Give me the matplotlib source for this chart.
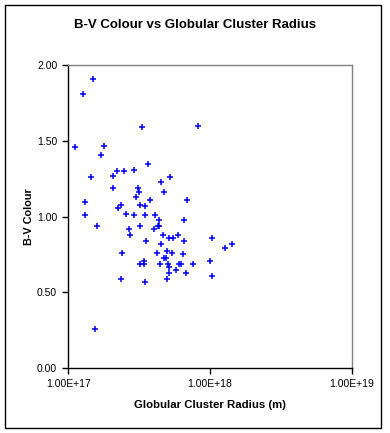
import matplotlib
matplotlib.use("Agg")
import matplotlib.pyplot as plt
from matplotlib.patches import Rectangle
from matplotlib.ticker import FixedLocator, NullLocator

plt.rcParams['font.family'] = ['Liberation Sans', 'DejaVu Sans']

# data
radius_m = [
    1.50e17, 1.26e17, 3.33e17, 8.27e17, 1.12e17, 1.80e17, 1.71e17, 3.67e17,
    2.22e17, 2.48e17, 2.92e17, 1.45e17, 2.08e17, 5.25e17, 4.53e17, 2.08e17,
    3.12e17, 3.17e17, 4.76e17, 3.02e17, 1.32e17, 3.79e17, 6.92e17, 2.37e17,
    3.22e17, 3.49e17, 2.25e17, 2.57e17, 2.92e17, 3.49e17, 4.11e17, 1.32e17,
    4.39e17, 6.59e17, 1.60e17, 3.22e17, 4.32e17, 4.39e17, 2.69e17, 4.05e17,
    2.74e17, 4.68e17, 3.55e17, 4.53e17, 5.16e17, 5.51e17, 5.97e17, 6.59e17,
    1.04e18, 2.40e17, 4.25e17, 5.00e17, 5.42e17, 6.48e17, 4.76e17, 4.92e17,
    3.22e17, 3.44e17, 3.44e17, 4.46e17, 5.08e17, 5.16e17, 6.07e17, 6.27e17,
    7.62e17, 1.00e18, 5.78e17, 6.81e17, 5.16e17, 2.37e17, 3.49e17, 4.99e17,
    1.04e18, 1.55e17, 1.44e18, 1.28e18,
]
bv_colour = [
    1.91, 1.81, 1.59, 1.60, 1.46, 1.47, 1.41, 1.35,
    1.30, 1.30, 1.31, 1.26, 1.27, 1.26, 1.23, 1.19,
    1.19, 1.16, 1.16, 1.13, 1.10, 1.11, 1.11, 1.08,
    1.08, 1.07, 1.06, 1.02, 1.01, 1.01, 1.01, 1.01,
    0.98, 0.98, 0.94, 0.94, 0.94, 0.94, 0.92, 0.92,
    0.88, 0.88, 0.84, 0.82, 0.86, 0.86, 0.88, 0.84,
    0.86, 0.76, 0.76, 0.77, 0.76, 0.75, 0.73, 0.73,
    0.69, 0.71, 0.69, 0.69, 0.69, 0.67, 0.69, 0.69,
    0.69, 0.71, 0.65, 0.63, 0.63, 0.59, 0.57, 0.59,
    0.61, 0.26, 0.82, 0.79,
]
x_ticks = [1e17, 1e18, 1e19]
x_tick_labels = ["1.00E+17", "1.00E+18", "1.00E+19"]
y_ticks = [0.0, 0.5, 1.0, 1.5, 2.0]
y_tick_labels = ["0.00", "0.50", "1.00", "1.50", "2.00"]

fig = plt.figure(figsize=(3.9, 4.33), dpi=100)

# outer chart border like excel
fig.patches.append(Rectangle((5 / 390, 5 / 433), 376 / 390, 423 / 433,
                             transform=fig.transFigure, fill=False,
                             edgecolor='black', linewidth=1.0))

ax = fig.add_axes([68.3 / 390, 65 / 433, 283.4 / 390, 302.7 / 433])
ax.plot(radius_m, bv_colour, linestyle='none', marker='+', color='#0000ff',
        markersize=4.2, markeredgewidth=1.1)

ax.set_xscale('log')
ax.set_xlim(1e17, 1e19)
ax.set_ylim(0, 2.0)
ax.xaxis.set_major_locator(FixedLocator(x_ticks))
ax.xaxis.set_minor_locator(NullLocator())
ax.set_xticklabels(x_tick_labels)
ax.set_yticks(y_ticks)
ax.set_yticklabels(y_tick_labels)
ax.tick_params(axis='both', direction='out', length=4, width=1,
               labelsize=7.5, color='black', pad=4)

ax.spines['left'].set_color('black')
ax.spines['bottom'].set_color('black')
ax.spines['top'].set_color('#808080')
ax.spines['right'].set_color('#808080')
for s in ax.spines.values():
    s.set_linewidth(1.0)

# title is centred on the whole chart, not the plot area
fig.text(195.5 / 390, 1 - 25 / 433, "B-V Colour vs Globular Cluster Radius",
         fontsize=9.5, fontweight='bold', ha='center', va='center')
ax.set_xlabel("Globular Cluster Radius (m)", fontsize=8.2, fontweight='bold',
              labelpad=8)
ax.set_ylabel("B-V Colour", fontsize=7.8, fontweight='bold', labelpad=2)

fig.savefig("out.png", dpi=100)
